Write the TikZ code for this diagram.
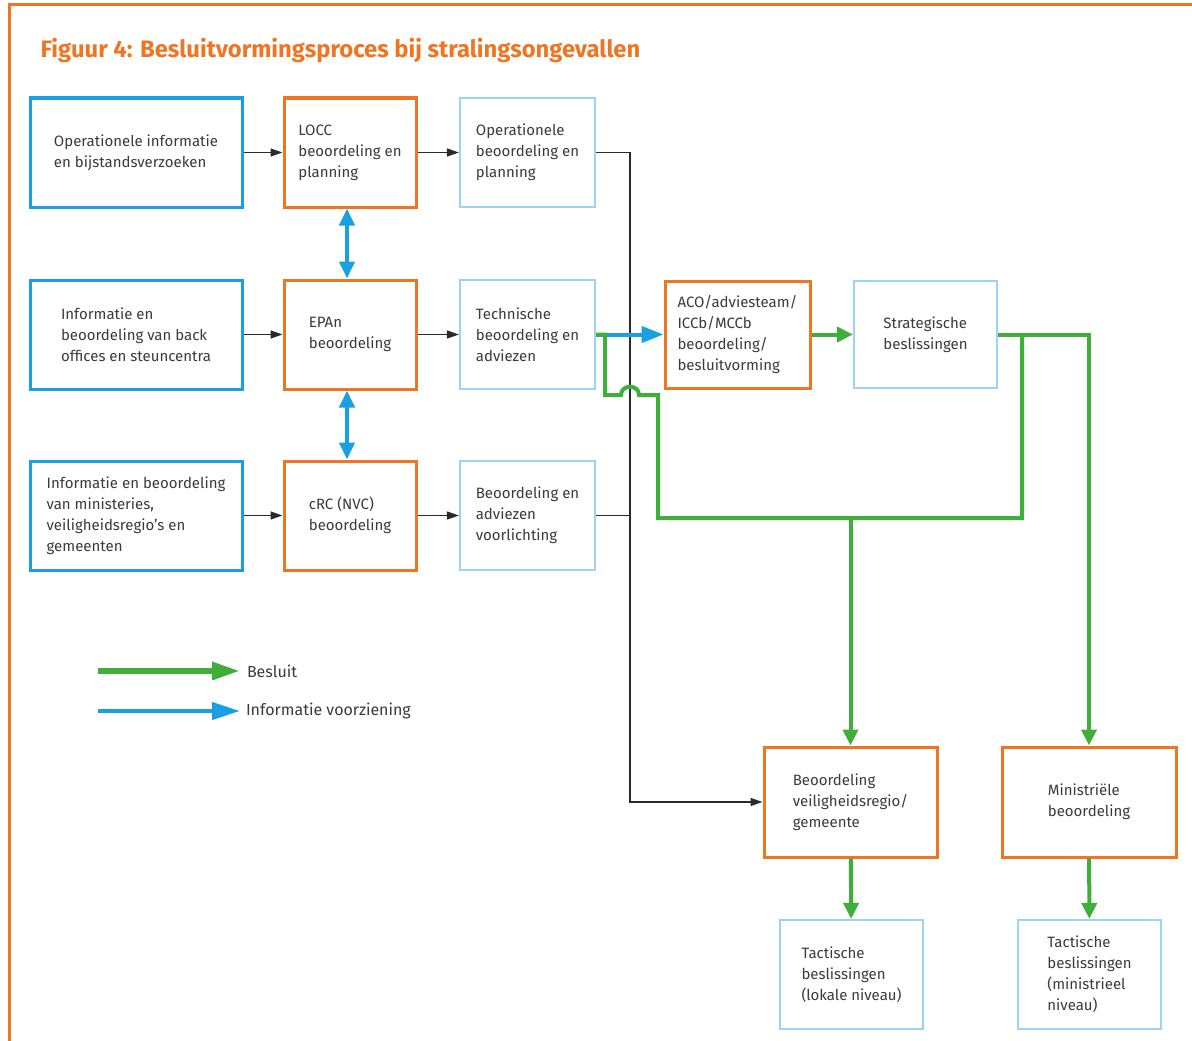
\documentclass[tikz,border=0pt]{standalone}
\usepackage{fontspec}
\setmainfont{Fira Sans}
\usetikzlibrary{arrows.meta, positioning}
\definecolor{figorange}{HTML}{EE7623}
\definecolor{figblue}{HTML}{1A9FE0}
\definecolor{figlight}{HTML}{9ED4F3}
\definecolor{figgreen}{HTML}{3FAE3A}
\definecolor{figtext}{HTML}{3A3A3A}
\definecolor{figline}{HTML}{2A2A2A}

\begin{document}
\begin{tikzpicture}[x=1pt, y=-1pt,
  box/.style={align=left, text=figtext, inner sep=0pt,
    font=\fontsize{15}{21}\selectfont},
  infobox/.style={box, draw=figblue, line width=3pt, minimum width=212pt, minimum height=109pt},
  evalbox/.style={box, draw=figorange, line width=3pt, minimum height=109pt},
  resultbox/.style={box, draw=figlight, line width=2.2pt, minimum width=140pt, minimum height=109pt},
  flow/.style={figline, line width=1.4pt},
  flowarrow/.style={flow, -{Triangle[length=12pt,width=8pt]}},
  decision/.style={figgreen, line width=4pt},
  decisionarrow/.style={decision, -{Triangle[length=16pt,width=15pt]}},
  infoarrow/.style={figblue, line width=4pt, -{Triangle[length=22pt,width=16pt]}},
  infodouble/.style={figblue, line width=4pt, {Triangle[length=17pt,width=15pt]}-{Triangle[length=17pt,width=15pt]}}]
  \useasboundingbox (0,0) rectangle (1192,1041);

  % Frame and title
  \draw[figorange, line width=3pt] (9,1041) -- (9,5) -- (1192,5);
  \node[anchor=west, figorange, font=\fontsize{23.8}{28}\bfseries\selectfont] (title) at (37,50)
    {Figuur 4: Besluitvormingsproces bij stralingsongevallen};

  % Incoming information
  \node[infobox] (ops) at (136,152.5) {Operationele informatie\\en bijstandsverzoeken};
  \node[infobox] (back) at (136,334.5) {Informatie en\\beoordeling van back\\offices en steuncentra};
  \node[infobox] (mins) at (136,515.5) {Informatie en beoordeling\\van ministeries,\\veiligheidsregio's en\\gemeenten};

  % Assessment centres
  \node[evalbox, minimum width=132pt] (locc) at (350,152.5) {LOCC\\beoordeling en\\planning};
  \node[evalbox, minimum width=132pt] (epan) at (350,334.5) {EPAn\\beoordeling};
  \node[evalbox, minimum width=132pt] (crc) at (350,515.5) {cRC (NVC)\\beoordeling};

  % Results
  \node[resultbox, minimum width=135pt] (opbeo) at (527.5,152.5) {Operationele\\beoordeling en\\planning};
  \node[resultbox, minimum width=135pt] (techn) at (527.5,334.5) {Technische\\beoordeling en\\adviezen};
  \node[resultbox, minimum width=135pt] (voorl) at (527.5,515.5) {Beoordeling en\\adviezen\\voorlichting};

  % Decision making
  \node[evalbox, minimum width=145pt, minimum height=107pt] (aco) at (737.5,334.5) {ACO/adviesteam/\\ICCb/MCCb\\beoordeling/\\besluitvorming};
  \node[resultbox, minimum width=143pt, minimum height=107pt] (strat) at (925.5,334.5) {Strategische\\beslissingen};
  \node[evalbox, minimum width=173pt, minimum height=110pt] (regio) at (850.5,802) {Beoordeling\\veiligheidsregio/\\gemeente};
  \node[evalbox, minimum width=174pt, minimum height=110pt] (minb) at (1089,802) {Ministriële\\beoordeling};
  \node[resultbox, minimum width=143pt] (taclok) at (851.5,974.5) {Tactische\\beslissingen\\(lokale niveau)};
  \node[resultbox, minimum width=143pt] (tacmin) at (1089.5,974.5) {Tactische\\beslissingen\\(ministrieel\\niveau)};

  % Information flow rows
  \draw[flowarrow] (ops) -- (locc);
  \draw[flowarrow] (back) -- (epan);
  \draw[flowarrow] (mins) -- (crc);
  \draw[flowarrow] (locc) -- (opbeo);
  \draw[flowarrow] (epan) -- (techn);
  \draw[flowarrow] (crc) -- (voorl);
  \draw[infodouble] (locc.south -| 347,0) -- (epan.north -| 347,0);
  \draw[infodouble] (epan.south -| 347,0) -- (crc.north -| 347,0);

  % Collector line to the region
  \coordinate (bus) at (630,152.5);
  \draw[flowarrow] (opbeo.east) -- (bus) -- (bus |- regio) -- (regio.west);
  \draw[flow] (voorl.east) -- (voorl.east -| bus);

  % Advice to the advisory team
  \draw[infoarrow] (techn.east) -- (aco.west);

  % Decisions
  \coordinate (gbus) at (1022,518);
  \draw[decision] (techn.east) -- (605,334.5) -- (605,395) -- (621,395)
    .. controls (621,384) and (639,384) .. (639,395) -- (658,395) -- (658,518) -- (gbus) -- (gbus |- strat);
  \draw[decisionarrow] (aco) -- (strat);
  \draw[decisionarrow] (strat.east) -| (minb.north);
  \draw[decisionarrow] (regio.north |- gbus) -- (regio.north);
  \draw[decisionarrow] (regio) -- (taclok);
  \draw[decisionarrow] (minb) -- (tacmin);

  % Legend
  \coordinate (besl) at (98,671);
  \coordinate (info) at (98,711);
  \draw[figgreen, line width=6pt, -{Triangle[length=28pt,width=17pt]}] (besl) -- ++(142,0)
    node[right, text=figtext, font=\fontsize{16}{18}\selectfont, inner sep=4pt] (beslt) {Besluit};
  \draw[figblue, line width=4pt, -{Triangle[length=28pt,width=17pt]}] (info) -- ++(142,0)
    node[right, text=figtext, font=\fontsize{16}{18}\selectfont, inner sep=4pt] (infot) {Informatie voorziening};
\end{tikzpicture}
\end{document}
